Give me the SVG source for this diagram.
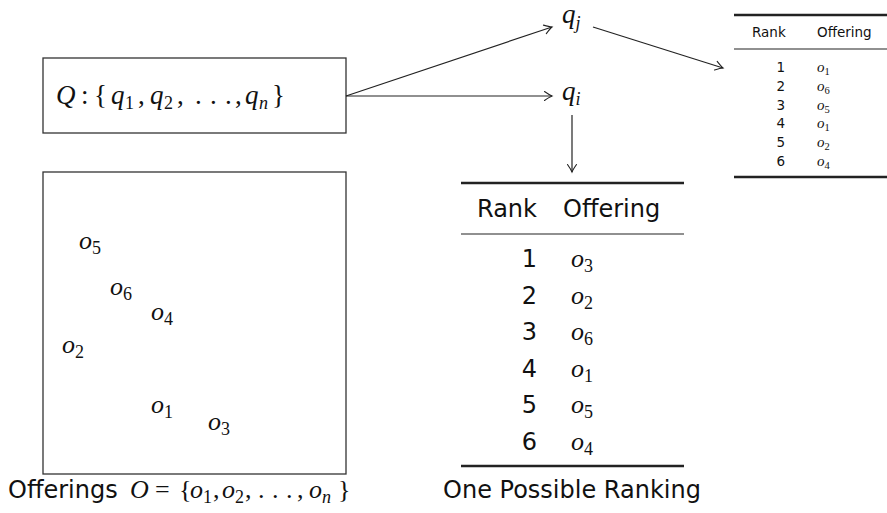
<svg xmlns="http://www.w3.org/2000/svg" width="887" height="513" viewBox="0 0 887 513">
  <style>
    .box { fill: none; stroke: #333; stroke-width: 1.3; }
    .thick { stroke: #222; stroke-width: 2.4; }
    .thin { stroke: #222; stroke-width: 1.2; }
    .conn { fill: none; stroke: #222; stroke-width: 1.2; marker-end: url(#arrow); }
    .sans { font-family: "DejaVu Sans", "Liberation Sans", sans-serif; fill: #111; }
    .math { font-family: "Liberation Serif", "DejaVu Serif", serif; fill: #111; }
    .it { font-style: italic; }
    .big { font-size: 24px; }
    .obig { font-size: 26px; }
    .small { font-size: 13.5px; }
  </style>
  <defs>
    <marker id="arrow" markerUnits="userSpaceOnUse" markerWidth="12" markerHeight="12" viewBox="-9 -6 11 12" refX="0" refY="0" orient="auto">
      <path d="M -7.5,-4.5 Q -2.5,-1 0,0 Q -2.5,1 -7.5,4.5" fill="none" stroke="#222" stroke-width="1.1" stroke-linecap="round"/>
    </marker>
  </defs>

  <!-- query set -->
  <g id="query-set">
    <rect class="box" x="43" y="58" width="303" height="75"/>
    <text class="math" font-size="27" y="104">
      <tspan class="it" x="56">Q</tspan><tspan x="81">:</tspan><tspan x="94">{</tspan><tspan class="it" x="111">q</tspan><tspan x="125" y="109" font-size="18">1</tspan><tspan x="138" y="104">,</tspan><tspan class="it" x="150">q</tspan><tspan x="164" y="109" font-size="18">2</tspan><tspan x="177" y="104">,</tspan><tspan x="195">.</tspan><tspan x="210">.</tspan><tspan x="225">.</tspan><tspan x="235">,</tspan><tspan class="it" x="245">q</tspan><tspan class="it" x="259" y="109" font-size="18">n</tspan><tspan x="272" y="104">}</tspan>
    </text>
  </g>

  <!-- individual queries -->
  <g id="query-j">
    <text class="math it" font-size="27" x="562" y="23">q<tspan font-size="18" dy="6">j</tspan></text>
  </g>
  <g id="query-i">
    <text class="math it" font-size="27" x="562" y="100">q<tspan font-size="18" dy="5">i</tspan></text>
  </g>

  <!-- offering space -->
  <g id="offerings">
    <rect class="box" x="43" y="172" width="303" height="302"/>
    <g class="math obig">
      <text class="it" x="79" y="249">o<tspan font-style="normal" font-size="18" dy="5">5</tspan></text>
      <text class="it" x="110" y="295">o<tspan font-style="normal" font-size="18" dy="5">6</tspan></text>
      <text class="it" x="151" y="320">o<tspan font-style="normal" font-size="18" dy="5">4</tspan></text>
      <text class="it" x="62" y="353">o<tspan font-style="normal" font-size="18" dy="5">2</tspan></text>
      <text class="it" x="151" y="413">o<tspan font-style="normal" font-size="18" dy="5">1</tspan></text>
      <text class="it" x="208" y="430">o<tspan font-style="normal" font-size="18" dy="5">3</tspan></text>
    </g>
    <text class="sans big" x="8" y="498">Offerings</text>
    <text class="math" font-size="26" y="498">
      <tspan class="it" x="130">O</tspan><tspan x="155">=</tspan><tspan x="179">{</tspan><tspan class="it" x="190">o</tspan><tspan x="203" y="503" font-size="18">1</tspan><tspan x="213" y="498">,</tspan><tspan class="it" x="222">o</tspan><tspan x="235" y="503" font-size="18">2</tspan><tspan x="245" y="498">,</tspan><tspan x="258">.</tspan><tspan x="272">.</tspan><tspan x="286">.</tspan><tspan x="297">,</tspan><tspan class="it" x="309">o</tspan><tspan class="it" x="322" y="503" font-size="18">n</tspan><tspan x="338" y="498">}</tspan>
    </text>
  </g>

  <!-- ranking for q_i -->
  <g id="ranking-i">
    <line class="thick" x1="461" y1="183" x2="684" y2="183"/>
    <text class="sans big" x="477" y="217">Rank</text>
    <text class="sans big" x="563" y="217">Offering</text>
    <line class="thin" x1="461" y1="234" x2="684" y2="234"/>
    <g class="sans big" text-anchor="end">
      <text x="537" y="267">1</text>
      <text x="537" y="303.6">2</text>
      <text x="537" y="340.2">3</text>
      <text x="537" y="376.8">4</text>
      <text x="537" y="413.4">5</text>
      <text x="537" y="450">6</text>
    </g>
    <g class="math obig">
      <text class="it" x="571" y="267">o<tspan font-style="normal" font-size="18" dy="5">3</tspan></text>
      <text class="it" x="571" y="303.6">o<tspan font-style="normal" font-size="18" dy="5">2</tspan></text>
      <text class="it" x="571" y="340.2">o<tspan font-style="normal" font-size="18" dy="5">6</tspan></text>
      <text class="it" x="571" y="376.8">o<tspan font-style="normal" font-size="18" dy="5">1</tspan></text>
      <text class="it" x="571" y="413.4">o<tspan font-style="normal" font-size="18" dy="5">5</tspan></text>
      <text class="it" x="571" y="450">o<tspan font-style="normal" font-size="18" dy="5">4</tspan></text>
    </g>
    <line class="thick" x1="461" y1="466" x2="684" y2="466"/>
    <text class="sans big" x="572" y="498" text-anchor="middle">One Possible Ranking</text>
  </g>

  <!-- ranking for q_j -->
  <g id="ranking-j">
    <line class="thick" x1="734" y1="15" x2="887" y2="15" stroke-width="2"/>
    <text class="sans small" x="752" y="37">Rank</text>
    <text class="sans small" x="817" y="37">Offering</text>
    <line class="thin" x1="734" y1="49" x2="887" y2="49" stroke-width="1"/>
    <g class="sans small" text-anchor="end">
      <text x="785" y="72">1</text>
      <text x="785" y="90.8">2</text>
      <text x="785" y="109.6">3</text>
      <text x="785" y="128.4">4</text>
      <text x="785" y="147.2">5</text>
      <text x="785" y="166">6</text>
    </g>
    <g class="math" font-size="15">
      <text class="it" x="817" y="72">o<tspan font-style="normal" font-size="10.5" dy="3">1</tspan></text>
      <text class="it" x="817" y="90.8">o<tspan font-style="normal" font-size="10.5" dy="3">6</tspan></text>
      <text class="it" x="817" y="109.6">o<tspan font-style="normal" font-size="10.5" dy="3">5</tspan></text>
      <text class="it" x="817" y="128.4">o<tspan font-style="normal" font-size="10.5" dy="3">1</tspan></text>
      <text class="it" x="817" y="147.2">o<tspan font-style="normal" font-size="10.5" dy="3">2</tspan></text>
      <text class="it" x="817" y="166">o<tspan font-style="normal" font-size="10.5" dy="3">4</tspan></text>
    </g>
    <line class="thick" x1="734" y1="177" x2="887" y2="177" stroke-width="2"/>
  </g>

  <!-- connectors -->
  <g id="connectors">
    <line class="conn" x1="346" y1="96" x2="552" y2="27"/>
    <line class="conn" x1="346" y1="96" x2="552" y2="96"/>
    <line class="conn" x1="593" y1="27" x2="723" y2="68"/>
    <line class="conn" x1="572" y1="115" x2="572" y2="172"/>
  </g>
</svg>
